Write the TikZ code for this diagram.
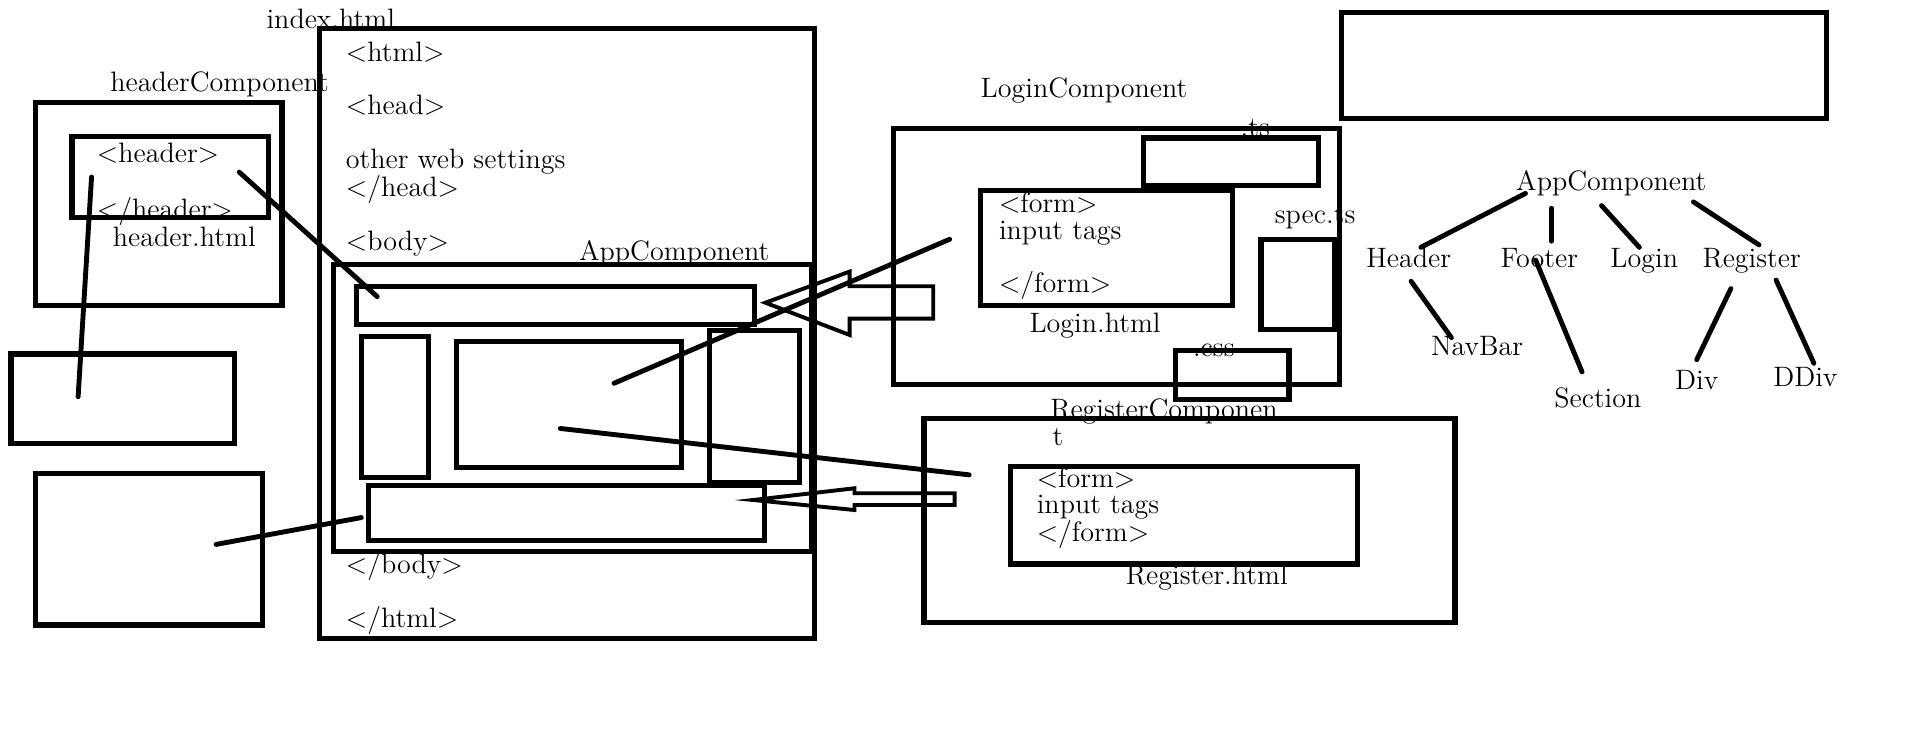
\documentclass[tikz,border=0pt]{standalone}
\usepackage{fontspec}
\usetikzlibrary{fit}

\begin{document}
\begin{tikzpicture}[
    x=0.5pt, y=-0.5pt,
    font=\fontsize{11.5}{11}\selectfont,
    txt/.style={inner sep=0pt, anchor=base west},
    tree/.style={inner sep=0pt, anchor=base, text height=8pt, text depth=2pt},
    box/.style={draw, line width=2.1pt, inner sep=0pt},
    link/.style={line width=2pt, line cap=round},
    hollow/.style={draw, line width=1.6pt, line join=miter}
]
\useasboundingbox (0,0) rectangle (1568,606);

% texts of index.html
\node[txt] (lIdx) at (218,23) {index.html};
\node[txt] (htmlOpen) at (283,50) {<html>};
\node[txt] (headOpen) at (283,94) {<head>};
\node[txt] (settings) at (283,138) {other web settings};
\node[txt] (headClose) at (283,161) {</head>};
\node[txt] (bodyOpen) at (283,205) {<body>};
\node[txt] (bodyClose) at (283,470) {</body>};
\node[txt] (htmlClose) at (283,514) {</html>};
\node[txt] (lApp) at (474,213) {AppComponent};

% header component
\node[txt] (lHc) at (90,75) {headerComponent};
\node[txt] (hdrOpen) at (79,133) {<header>};
\node[txt] (hdrClose) at (79,179) {</header>};
\node[txt] (lHdrFile) at (92,202) {header.html};

% login component
\node[txt] (lLg) at (803,80) {LoginComponent};
\node[txt] (lTs) at (1016,112) {.ts};
\node[txt] (lgF1) at (818,174) {<form>};
\node[txt] (lgF2) at (818,196) {input tags};
\node[txt] (lgF3) at (818,240) {</form>};
\node[txt] (lLgFile) at (843,272) {Login.html};
\node[txt] (lSpec) at (1044,183) {spec.ts};
\node[txt] (lCss) at (977,292) {.css};

% register component
\node[txt] (lRg) at (860,343) {RegisterComponen};
\node[txt] (lRgT) at (862,365) {t};
\node[txt] (rgF1) at (849,399) {<form>};
\node[txt] (rgF2) at (849,421) {input tags};
\node[txt] (rgF3) at (849,444) {</form>};
\node[txt] (lRgFile) at (922,479) {Register.html};

% boxes
\node[box, fit={(262,23) (667,523)}] (idx) {};
\node[box, fit={(273,217) (665,452)}] (app) {};
\node[box, fit={(292,235) (618,266)}] (apHd) {};
\node[box, fit={(296,276) (351,391)}] (apL) {};
\node[box, fit={(374,280) (558,383)}] (apM) {};
\node[box, fit={(581,271) (655,395)}] (apR) {};
\node[box, fit={(302,398) (626,443)}] (apFt) {};

\node[box, fit={(29,84) (231,250)}] (hc) {};
\node[box, fit={(59,112) (220,178)}] (hcIn) {};
\node[box, fit={(9,290) (192,363)}] (lb1) {};
\node[box, fit={(29,388) (215,512)}] (lb2) {};

\node[box, fit={(1099,10) (1496,97)}] (tr) {};

\node[box, fit={(732,105) (1097,315)}] (lg) {};
\node[box, fit={(937,113) (1080,152)}] (lgTs) {};
\node[box, fit={(803,156) (1010,250)}] (lgForm) {};
\node[box, fit={(1033,196) (1093,270)}] (lgSpec) {};
\node[box, fit={(963,287) (1056,327)}] (lgCss) {};

\node[box, fit={(757,343) (1192,510)}] (rg) {};
\node[box, fit={(828,382) (1112,462)}] (rgForm) {};

% hand drawn links
\coordinate (hpA) at (75,145);
\coordinate (hpB) at (196,141);
\coordinate (lb1A) at (64,325);
\coordinate (lb2A) at (177,446);
\coordinate (apHdA) at (309,243);
\coordinate (apFtA) at (296,424);
\coordinate (apMA) at (503,314);
\coordinate (apMB) at (459,351);
\coordinate (lgA) at (778,196);
\coordinate (rgA) at (794,389);
\draw[link] (hpA) -- (lb1A);
\draw[link] (hpB) -- (apHdA);
\draw[link] (lb2A) -- (apFtA);
\draw[link] (lgA) -- (apMA);
\draw[link] (apMB) -- (rgA);

% hollow arrows
\coordinate (lgTip) at (627,248);
\coordinate (rgTip) at (617,409.6);
\draw[hollow] (lgTip) -- ++(69,-25.5) -- ++(0,12) -- ++(68.5,0) -- ++(0,26.5)
    -- ++(-68.5,0) -- ++(0,13.4) -- cycle;
\draw[hollow] (rgTip) -- ++(83,-9.6) -- ++(0,4.1) -- ++(82,0) -- ++(0,9.6)
    -- ++(-82,0) -- ++(0,4.1) -- cycle;

% component tree
\node[tree] (tApp) at (1320,156) {AppComponent};
\node[tree] (tHdr) at (1154,219) {Header};
\node[tree] (tFot) at (1261,219) {Footer};
\node[tree] (tLgn) at (1347,219) {Login};
\node[tree] (tReg) at (1435,219) {Register};
\node[tree] (tNav) at (1210,291) {NavBar};
\node[tree] (tSec) at (1309,334) {Section};
\node[tree] (tDiv) at (1390,319) {Div};
\node[tree] (tDDiv) at (1479,317) {DDiv};

\draw[link] ([xshift=4pt,yshift=1pt]tApp.south west) -- ([xshift=5pt]tHdr.north);
\draw[link] ([xshift=5pt,yshift=16pt]tFot.north) -- ([xshift=5pt,yshift=2.5pt]tFot.north);
\draw[link] ([xshift=-4pt,yshift=-4pt]tApp.south) -- ([xshift=-2pt]tLgn.north);
\draw[link] ([xshift=-5.5pt,yshift=-2.5pt]tApp.south east) -- ([xshift=3pt,yshift=1pt]tReg.north);
\draw[link] ([xshift=1pt,yshift=-3.5pt]tHdr.south) -- ([xshift=-10.5pt,yshift=-1pt]tNav.north);
\draw[link] ([xshift=-1.5pt,yshift=3pt]tFot.base) -- ([xshift=-6.5pt,yshift=6.5pt]tSec.north);
\draw[link] ([xshift=-8.5pt,yshift=-6.5pt]tReg.south) -- ([yshift=4pt]tDiv.north);
\draw[link] ([xshift=10pt,yshift=-3pt]tReg.south) -- ([xshift=3.5pt,yshift=1.5pt]tDDiv.north);
\end{tikzpicture}
\end{document}
